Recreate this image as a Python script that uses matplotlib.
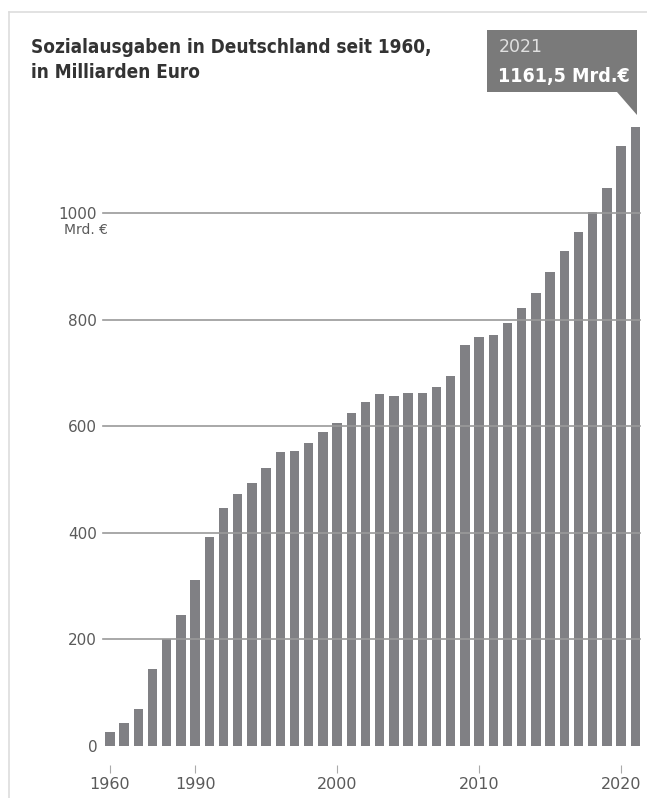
import matplotlib
matplotlib.use("Agg")
import matplotlib.pyplot as plt
from matplotlib.patches import Polygon
from matplotlib.lines import Line2D

# Sozialausgaben in Deutschland, Mrd. Euro
years = [1960, 1965, 1970, 1975, 1980, 1985, 1990,
         1991, 1992, 1993, 1994, 1995, 1996, 1997, 1998, 1999, 2000,
         2001, 2002, 2003, 2004, 2005, 2006, 2007, 2008, 2009, 2010,
         2011, 2012, 2013, 2014, 2015, 2016, 2017, 2018, 2019, 2020, 2021]
values = [27, 43, 69, 144, 200, 245, 311,
          392, 446, 472, 493, 521, 551, 554, 568, 589, 606,
          625, 645, 660, 656, 663, 663, 674, 695, 753, 767,
          772, 793, 822, 849, 889, 929, 965, 1002, 1046, 1125, 1161.5]
ytick_vals = [0, 200, 400, 600, 800, 1000]
xtick_years = [1960, 1990, 2000, 2010, 2020]

W, H = 647, 798
BAR = "#808084"
GRID = "#9a9a9a"
LABEL = "#5a5a5a"
COND = ["DejaVu Sans"]


def fx(px):
    return px / W


def fy(py):
    return 1 - py / H


fig = plt.figure(figsize=(W / 100, H / 100), dpi=100)
fig.patch.set_facecolor("white")

# light frame (top and left edge)
fig.add_artist(Line2D([fx(9), 1], [fy(12), fy(12)], color="#dddddd", lw=1.2))
fig.add_artist(Line2D([fx(9), fx(9)], [fy(12), 0], color="#dddddd", lw=1.2))

left, right, base, top = 100, 645, 746, 100
ax = fig.add_axes([fx(left), fy(base), fx(right - left), (base - top) / H])
ax.set_facecolor("none")

pos = list(range(len(years)))
ax.bar(pos, values, width=0.66, color=BAR, zorder=2)
for v in ytick_vals[1:]:
    ax.axhline(v, xmin=0.006, xmax=0.99, color=GRID, lw=1.2, zorder=3)

ax.set_xlim(-0.70, 37.68)
ax.set_ylim(0, (base - top) / 0.533)

ax.set_yticks(ytick_vals)
ax.set_yticklabels([str(v) for v in ytick_vals])
ax.tick_params(axis="y", length=0, pad=2, labelsize=11, labelcolor=LABEL)

ax.set_xticks([years.index(y) for y in xtick_years])
ax.set_xticklabels([str(y) for y in xtick_years])
ax.tick_params(axis="x", length=6, width=0.8, color="#aaaaaa", pad=2,
               labelsize=11.5, labelcolor=LABEL)
for s in ax.spines.values():
    s.set_visible(False)
ax.spines["bottom"].set_position(("outward", 14))

fig.text(fx(64), fy(223), "Mrd. €", ha="left", va="top", fontsize=10,
         color=LABEL)

# title
title_kw = dict(family=COND, fontstretch="condensed", fontweight="bold",
                fontsize=13.6, color="#333333", va="baseline")
fig.text(fx(31), fy(53), "Sozialausgaben in Deutschland seit 1960,", **title_kw)
fig.text(fx(31), fy(78), "in Milliarden Euro", **title_kw)

# callout for 2021
box = [(487, 30), (637, 30), (637, 115), (617, 92), (487, 92)]
fig.add_artist(Polygon([(fx(x), fy(y)) for x, y in box], closed=True,
                       facecolor="#7a7a7a", edgecolor="none",
                       transform=fig.transFigure))
fig.text(fx(499), fy(52), str(years[-1]), fontsize=12.5, color="#e0e0e0",
         va="baseline")
fig.text(fx(498), fy(82), f"{values[-1]:.1f}".replace(".", ",") + " Mrd.€",
         family=COND, fontstretch="condensed", fontweight="bold", fontsize=14,
         color="white", va="baseline")

fig.savefig("out.png", dpi=100)
